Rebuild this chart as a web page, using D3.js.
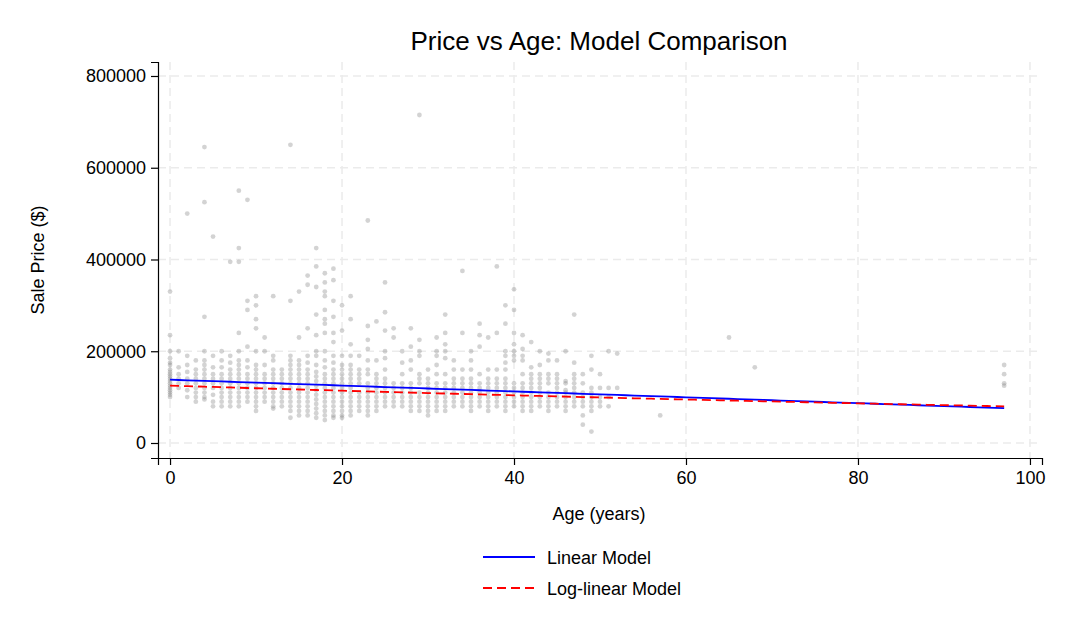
<!DOCTYPE html>
<html>
<head>
<meta charset="utf-8">
<script src="https://cdn.jsdelivr.net/npm/d3@7"></script>
<style>
  body { margin: 0; background: #fff; font-family: Arial, "Liberation Sans", sans-serif; }
  text { font-family: Arial, "Liberation Sans", sans-serif; }
</style>
</head>
<body>
<script>
// sale prices (thousands of $) at each age
const ages = [0,1,2,3,4,5,6,7,8,9,10,11,12,13,14,15,16,17,18,19,20,21,22,23,24,25,26,27,28,29,30,31,32,33,34,35,36,37,38,39,40,41,42,43,44,45,46,47,48,49,50,51,52,57,65,68,97]
const pricesByAge = [
  [330,235,200,185,175,170,160,155,150,145,140,135,130,125,120,115,110,105,100],
  [200,165,150,140,130,120],
  [500,190,170,155,140,130,115,100],
  [180,160,150,140,130,120,110,100,90],
  [645,525,275,200,180,170,160,150,140,130,120,110,100,95],
  [450,190,165,150,140,130,120,105,90,80],
  [200,180,165,150,140,130,120,110,100,90,80],
  [395,190,175,160,150,140,130,120,110,100,90,80],
  [550,425,395,240,200,180,170,160,150,140,130,120,110,100,90,80],
  [530,310,290,210,180,165,150,140,130,120,110,100,90],
  [320,300,270,250,200,170,160,150,140,130,120,110,100,90,80,70],
  [230,200,170,150,140,130,120,110,100,90],
  [320,190,180,160,150,140,130,120,110,100,90,80,75],
  [160,150,140,130,120,110,100,90,80],
  [650,310,190,180,170,160,150,140,130,120,110,100,90,80,70,55],
  [330,230,180,170,160,150,140,130,120,110,100,90,80,70,60],
  [365,345,250,190,175,160,150,140,130,120,110,100,90,80,70,60],
  [425,385,340,280,235,200,190,170,155,145,135,125,115,105,95,85,75,65,55],
  [370,350,330,320,290,270,260,240,200,180,165,150,140,130,120,110,100,90,80,70,60,50],
  [380,355,310,275,240,220,190,175,160,150,140,130,120,110,100,90,80,70,60,55],
  [300,245,190,170,160,150,140,130,120,110,100,90,80,70,60,55],
  [320,270,215,190,170,160,150,140,130,120,110,100,90,80,70,60],
  [190,160,150,140,130,110,100,90,80,70],
  [485,255,225,205,180,160,150,130,120,110,100,90,80,70,60],
  [265,180,150,140,130,120,110,100,90,80,70],
  [350,285,245,200,185,160,140,130,120,110,100,90,80],
  [250,230,130,120,110,100,90,80],
  [200,175,150,130,120,110,100,90,80],
  [250,210,180,160,130,120,110,100,90,80,70],
  [715,225,200,190,150,140,130,110,100,90,80,70],
  [160,140,130,120,110,100,90,80,70,60],
  [230,200,190,170,150,130,120,110,100,90,80,70],
  [280,240,215,200,185,150,130,120,110,100,90,80,70],
  [180,160,140,130,120,110,100,90,80],
  [375,240,160,140,130,120,110,100,90,80],
  [200,180,160,140,130,120,110,100,90,80,70],
  [260,235,210,150,130,120,110,100,90,80],
  [230,160,140,130,120,110,100,90,80,70],
  [385,240,160,140,130,120,110,100,90,80],
  [300,260,200,190,175,160,140,130,120,110,100,90,80,70],
  [335,290,240,215,200,190,180,130,120,110,100,90,80],
  [235,205,190,180,150,130,120,110,100,90,80,70],
  [220,165,150,140,130,120,110,100,90,80,70],
  [200,170,150,140,130,120,110,100,90,80],
  [195,180,150,140,130,110,100,90,80,70],
  [180,150,140,130,120,110,100,90,80],
  [200,135,130,115,110,100,90,80,70],
  [280,175,150,140,130,120,110,100,90,80],
  [150,130,110,100,90,80,60,40],
  [190,160,120,110,100,90,80,70,25],
  [150,120,100,90,80],
  [200,120,100,80],
  [195,120],
  [60],
  [230],
  [165],
  [170,150,130,125]
]
const xTicks = [0, 20, 40, 60, 80, 100]
const yTicks = [0, 200000, 400000, 600000, 800000]
// fitted model coefficients
const linearModel = { intercept: 138000, slope: -640 }
const logModel = { intercept: Math.log(125000), slope: -0.00461 }
const fitAges = d3.range(0, 97.5, 1)

const points = []
ages.forEach((a, i) => pricesByAge[i].forEach(p => points.push({ age: a, price: p * 1000 })))

const W = 1066, H = 639
const margin = { top: 62, right: 24, bottom: 181, left: 158 }
const chartWidth = W - margin.left - margin.right,
      chartHeight = H - margin.top - margin.bottom

const svg = d3.select('body').append('svg').attr('width', W).attr('height', H)
const chart = svg.append('g').attr('transform', `translate(${margin.left},${margin.top})`)

const x = d3.scaleLinear().domain([-1.4, 101.4]).range([0, chartWidth])
const y = d3.scaleLinear().domain([-32700, 830500]).range([chartHeight, 0])

// grid
chart.append('g').selectAll('line').data(xTicks).enter().append('line')
  .attr('x1', d => x(d)).attr('x2', d => x(d)).attr('y1', 0).attr('y2', chartHeight)
  .attr('stroke', '#ebebeb').attr('stroke-width', 1.5).attr('stroke-dasharray', '8,5')
chart.append('g').selectAll('line').data(yTicks).enter().append('line')
  .attr('y1', d => y(d)).attr('y2', d => y(d)).attr('x1', 0).attr('x2', chartWidth)
  .attr('stroke', '#ebebeb').attr('stroke-width', 1.5).attr('stroke-dasharray', '8,5')

// points
chart.append('g').selectAll('circle').data(points).enter().append('circle')
  .attr('cx', d => x(d.age)).attr('cy', d => y(d.price)).attr('r', 2.4)
  .attr('fill', '#808080').attr('fill-opacity', 0.35)

// model lines
const line = d3.line().x(d => x(d[0])).y(d => y(d[1]))
chart.append('path')
  .datum(fitAges.map(a => [a, linearModel.intercept + linearModel.slope * a]))
  .attr('d', line).attr('fill', 'none').attr('stroke', '#0000ff').attr('stroke-width', 1.8)
chart.append('path')
  .datum(fitAges.map(a => [a, Math.exp(logModel.intercept + logModel.slope * a)]))
  .attr('d', line).attr('fill', 'none').attr('stroke', '#ff0000').attr('stroke-width', 1.8)
  .attr('stroke-dasharray', '9,5')

// axes
const xAxis = chart.append('g').attr('transform', `translate(0,${chartHeight})`)
  .call(d3.axisBottom(x).tickValues(xTicks).tickSize(7).tickPadding(6))
const yAxis = chart.append('g')
  .call(d3.axisLeft(y).tickValues(yTicks).tickFormat(d3.format('d')).tickSize(7).tickPadding(5))
;[xAxis, yAxis].forEach(g => {
  g.selectAll('text').attr('font-size', 18).attr('fill', '#000')
  g.selectAll('line, path').attr('stroke', '#000').attr('stroke-width', 1.2)
})

svg.append('text').attr('x', 599).attr('y', 50).attr('text-anchor', 'middle')
  .attr('font-size', 26).text('Price vs Age: Model Comparison')
svg.append('text').attr('x', 599).attr('y', 520).attr('text-anchor', 'middle')
  .attr('font-size', 18).text('Age (years)')
svg.append('text').attr('transform', 'translate(44,260) rotate(-90)').attr('text-anchor', 'middle')
  .attr('font-size', 18).text('Sale Price ($)')

// legend
const legendItems = [
  { label: 'Linear Model', color: '#0000ff', dash: null },
  { label: 'Log-linear Model', color: '#ff0000', dash: '9,5' }
]
const legend = svg.append('g').selectAll('g').data(legendItems).enter().append('g')
  .attr('transform', (d, i) => `translate(483,${557 + i * 31})`)
legend.append('line').attr('x1', 0).attr('x2', 52)
  .attr('stroke', d => d.color).attr('stroke-width', 1.8).attr('stroke-dasharray', d => d.dash)
legend.append('text').attr('x', 64).attr('dy', 6.5).attr('font-size', 18).text(d => d.label)
</script>
</body>
</html>
